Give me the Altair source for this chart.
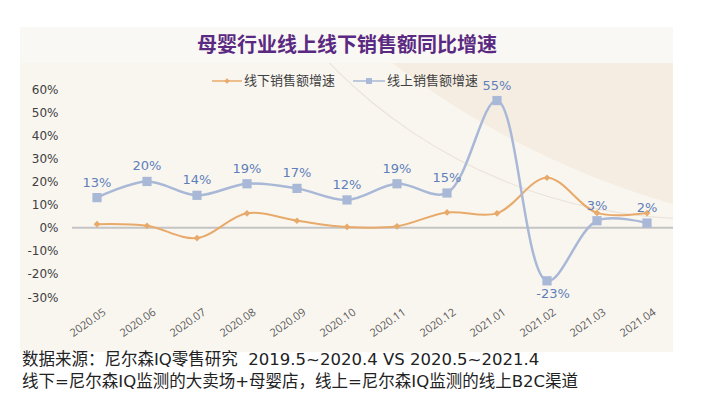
import altair as alt
import pandas as pd

# ---------------- data ----------------
months = ["2020.05", "2020.06", "2020.07", "2020.08", "2020.09", "2020.10",
          "2020.11", "2020.12", "2021.01", "2021.02", "2021.03", "2021.04"]
offline = [1.5, 0.8, -4.5, 6.2, 3.0, 0.3, 0.6, 6.6, 6.2, 21.6, 6.4, 6.3]
online = [13, 20, 14, 19, 17, 12, 19, 15, 55, -23, 3, 2]
series_names = ["线下销售额增速", "线上销售额增速"]
y_ticks = [-30, -20, -10, 0, 10, 20, 30, 40, 50, 60]
title_text = "母婴行业线上线下销售额同比增速"
footer_lines = [
    "数据来源：尼尔森IQ零售研究\u00a0\u00a02019.5~2020.4 VS 2020.5~2021.4",
    "线下=尼尔森IQ监测的大卖场+母婴店，线上=尼尔森IQ监测的线上B2C渠道",
]

df = pd.DataFrame({"month": months, "offline": offline, "online": online})
one = alt.Data(values=[{"a": 1}])

ORANGE = "#E8AA6A"
BLUE = "#A8B8D6"
LABEL_BLUE = "#5E7FBA"
CREAM = "#F9F6F0"
CREAM_TOP = "#FAF8F4"
BEIGE = "#F5EDE2"
NUMFONT = "DejaVu Sans"

x_enc = alt.X("month:O", sort=months,
              scale=alt.Scale(type="point", padding=0.5),
              axis=alt.Axis(title=None, labelAngle=-35, labelFontSize=11,
                            labelColor="#595959", labelFont="Open Sans",
                            domain=False, ticks=False, grid=False,
                            labelPadding=9, labelOffset=4, zindex=1))
y_scale = alt.Scale(domain=[-30, 60], nice=False, zero=False)
y_axis = alt.Axis(title=None, values=y_ticks, labelExpr="datum.value + '%'",
                  domain=False, ticks=False, grid=False, labelPadding=14,
                  labelFontSize=12, labelColor="#404040", labelFont=NUMFONT,
                  zindex=1)

# ---------------- decoration ----------------
bg = alt.Chart(one).mark_rect(color=CREAM).encode(
    x=alt.value(-52), x2=alt.value(601), y=alt.value(-62), y2=alt.value(263))
disc = alt.Chart(one).mark_arc(radius=848, theta=0, theta2=6.2832, color=BEIGE).encode(
    x=alt.value(835), y=alt.value(-700))
ring = alt.Chart(one).mark_arc(innerRadius=513.4, radius=514.4, theta=0, theta2=6.2832,
                               color="#E9E2D8").encode(
    x=alt.value(626), y=alt.value(-384))
mask_top = alt.Chart(one).mark_rect(color="white").encode(
    x=alt.value(-72), x2=alt.value(640), y=alt.value(-100), y2=alt.value(-62))
mask_right = alt.Chart(one).mark_rect(color="white").encode(
    x=alt.value(601), x2=alt.value(640), y=alt.value(-100), y2=alt.value(320))
header = alt.Chart(one).mark_rect(color=CREAM_TOP).encode(
    x=alt.value(-52), x2=alt.value(601), y=alt.value(-62), y2=alt.value(-26))

zero = alt.Chart(one).mark_rule(color="#C4C4C4", strokeWidth=2).encode(
    y=alt.datum(0, scale=y_scale, axis=y_axis), x=alt.value(0), x2=alt.value(601))

# ---------------- series ----------------
base = alt.Chart(df)
off_line = base.mark_line(color=ORANGE, strokeWidth=2, interpolate="catmull-rom").encode(
    x=x_enc, y=alt.Y("offline:Q", scale=y_scale, axis=y_axis))
on_line = base.mark_line(color=BLUE, strokeWidth=2.5, interpolate="catmull-rom").encode(
    x=x_enc, y=alt.Y("online:Q", scale=y_scale, axis=y_axis))
off_pts = base.mark_point(shape="diamond", filled=True, size=45, color=ORANGE, opacity=1).encode(
    x=x_enc, y=alt.Y("offline:Q", scale=y_scale, axis=y_axis))
on_pts = base.mark_point(shape="square", filled=True, size=85, color=BLUE, opacity=1).encode(
    x=x_enc, y=alt.Y("online:Q", scale=y_scale, axis=y_axis))

lab_pos = base.transform_calculate(label="datum.online + '%'").transform_filter(
    "datum.online >= 0").mark_text(
    dy=-15, fontSize=13, color=LABEL_BLUE, font=NUMFONT).encode(
    x=x_enc, y=alt.Y("online:Q", scale=y_scale, axis=y_axis),
    text=alt.Text("label:N"))
lab_neg = base.transform_calculate(label="datum.online + '%'").transform_filter(
    "datum.online < 0").mark_text(
    dy=13, dx=6, fontSize=13, color=LABEL_BLUE, font=NUMFONT).encode(
    x=x_enc, y=alt.Y("online:Q", scale=y_scale, axis=y_axis),
    text=alt.Text("label:N"))

# ---------------- legend ----------------
leg_y = -8
leg1_line = alt.Chart(one).mark_rule(color=ORANGE, strokeWidth=1.5).encode(
    x=alt.value(140), x2=alt.value(170), y=alt.value(leg_y))
leg1_pt = alt.Chart(one).mark_point(shape="diamond", filled=True, size=30, color=ORANGE, opacity=1).encode(
    x=alt.value(155), y=alt.value(leg_y))
leg1_txt = alt.Chart(one).mark_text(align="left", baseline="middle", fontSize=13,
                                    color="#404040", font="Noto Sans CJK SC",
                                    text=series_names[0]).encode(
    x=alt.value(172), y=alt.value(leg_y))
leg2_line = alt.Chart(one).mark_rule(color=BLUE, strokeWidth=1.5).encode(
    x=alt.value(281), x2=alt.value(313), y=alt.value(leg_y))
leg2_pt = alt.Chart(one).mark_point(shape="square", filled=True, size=35, color=BLUE, opacity=1).encode(
    x=alt.value(297), y=alt.value(leg_y))
leg2_txt = alt.Chart(one).mark_text(align="left", baseline="middle", fontSize=13,
                                    color="#404040", font="Noto Sans CJK SC",
                                    text=series_names[1]).encode(
    x=alt.value(315), y=alt.value(leg_y))

# ---------------- title & footer ----------------
title = alt.Chart(one).mark_text(align="center", baseline="middle", fontSize=20,
                                 fontWeight="bold", color="#5A2A82",
                                 font="Noto Sans CJK SC", text=title_text).encode(
    x=alt.value(275), y=alt.value(-43))
FOOTFONT = "DejaVu Sans, Noto Sans CJK SC"
foot1 = alt.Chart(one).mark_text(align="left", baseline="middle", fontSize=16.5,
                                 color="#222222", font=FOOTFONT,
                                 text=footer_lines[0]).encode(
    x=alt.value(-50), y=alt.value(271))
foot2 = alt.Chart(one).mark_text(align="left", baseline="middle", fontSize=16.5,
                                 color="#222222", font=FOOTFONT,
                                 text=footer_lines[1]).encode(
    x=alt.value(-50), y=alt.value(293))

chart = alt.layer(
    bg, disc, ring, mask_top, mask_right, header, zero,
    off_line, on_line, off_pts, on_pts, lab_pos, lab_neg,
    leg1_line, leg1_pt, leg1_txt, leg2_line, leg2_pt, leg2_txt,
    title, foot1, foot2,
).properties(
    width=600, height=208,
    padding={"left": 64, "top": 81, "right": 28, "bottom": 98},
    autosize=alt.AutoSizeParams(type="none"),
    background="white",
).configure_view(stroke=None)

chart.save("out.html", embed_options={"renderer": "svg", "actions": False})
